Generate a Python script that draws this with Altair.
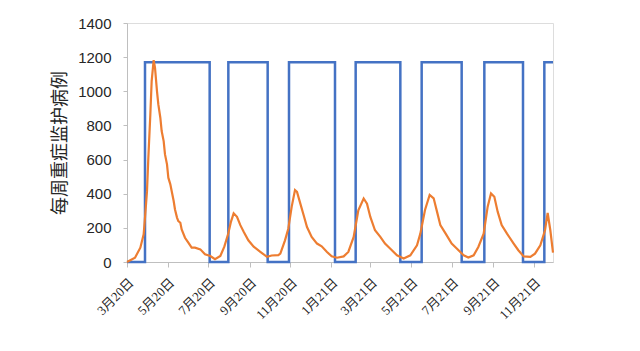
import altair as alt
import pandas as pd

# Weekly ICU cases (orange)
case_dates = [
    "2020-03-01", "2020-03-13", "2020-03-21", "2020-03-26", "2020-03-28", "2020-03-31",
    "2020-04-02", "2020-04-05", "2020-04-07", "2020-04-10", "2020-04-12", "2020-04-15",
    "2020-04-17", "2020-04-20", "2020-04-22", "2020-04-25", "2020-04-27", "2020-04-30",
    "2020-05-02", "2020-05-05", "2020-05-07", "2020-05-10", "2020-05-12", "2020-05-15",
    "2020-05-17", "2020-05-20", "2020-05-22", "2020-05-27", "2020-06-01", "2020-06-06",
    "2020-06-11", "2020-06-19", "2020-06-26", "2020-07-04", "2020-07-11", "2020-07-19",
    "2020-07-25", "2020-07-31", "2020-08-04", "2020-08-08", "2020-08-13", "2020-08-18",
    "2020-08-23", "2020-08-30", "2020-09-07", "2020-09-17", "2020-09-27", "2020-10-04",
    "2020-10-14", "2020-10-17", "2020-10-24", "2020-10-29", "2020-11-03", "2020-11-08",
    "2020-11-11", "2020-11-16", "2020-11-21", "2020-11-26", "2020-12-03", "2020-12-11",
    "2020-12-18", "2020-12-26", "2021-01-02", "2021-01-10", "2021-01-20", "2021-01-27",
    "2021-02-04", "2021-02-11", "2021-02-19", "2021-02-24", "2021-03-01", "2021-03-08",
    "2021-03-16", "2021-03-23", "2021-03-31", "2021-04-10", "2021-04-20", "2021-04-30",
    "2021-05-10", "2021-05-15", "2021-05-22", "2021-05-29", "2021-06-04", "2021-06-09",
    "2021-06-14", "2021-06-22", "2021-07-01", "2021-07-09", "2021-07-19", "2021-07-26",
    "2021-08-03", "2021-08-10", "2021-08-18", "2021-08-24", "2021-08-29", "2021-09-03",
    "2021-09-08", "2021-09-14", "2021-09-22", "2021-10-02", "2021-10-09", "2021-10-17",
    "2021-10-27", "2021-11-03", "2021-11-11", "2021-11-18", "2021-11-22", "2021-11-26",
    "2021-11-30",
]
case_values = [
    0, 25, 84, 162, 260, 415,
    610, 864, 1060, 1182, 1138, 1000,
    923, 845, 767, 708, 630, 572,
    494, 455, 416, 357, 308, 260,
    240, 230, 191, 142, 113, 84,
    84, 74, 45, 35, 16, 35,
    90, 168, 237, 285, 265, 216,
    177, 127, 90, 60, 30, 38,
    40, 49, 127, 196, 323, 421,
    411, 342, 274, 205, 147, 108,
    92, 59, 33, 25, 33, 59,
    147, 303, 372, 342, 264, 186,
    147, 108, 78, 39, 20, 39,
    98, 166, 305, 393, 373, 295,
    217, 166, 108, 78, 39, 26,
    39, 88, 166, 324, 402, 382,
    295, 217, 166, 108, 69, 33,
    30, 49, 98, 186, 288, 186,
    55,
]

# On/off intervention indicator (blue)
lock_dates = [
    "2020-03-01", "2020-03-28", "2020-03-28", "2020-07-03", "2020-07-03", "2020-07-31",
    "2020-07-31", "2020-09-28", "2020-09-28", "2020-10-30", "2020-10-30", "2021-01-07",
    "2021-01-07", "2021-02-07", "2021-02-07", "2021-04-15", "2021-04-15", "2021-05-17",
    "2021-05-17", "2021-07-16", "2021-07-16", "2021-08-19", "2021-08-19", "2021-10-16",
    "2021-10-16", "2021-11-17", "2021-11-17", "2021-11-30",
]
lock_values = [
    0, 0, 1170, 1170, 0, 0,
    1170, 1170, 0, 0, 1170, 1170,
    0, 0, 1170, 1170, 0, 0,
    1170, 1170, 0, 0, 1170, 1170,
    0, 0, 1170, 1170,
]

tick_months = [(2020, 3), (2020, 5), (2020, 7), (2020, 9), (2020, 11), (2021, 1),
               (2021, 3), (2021, 5), (2021, 7), (2021, 9), (2021, 11)]
y_ticks = [0, 200, 400, 600, 800, 1000, 1200, 1400]

cases = pd.DataFrame({"date": case_dates, "value": case_values, "idx": list(range(len(case_dates)))})
lock = pd.DataFrame({"date": lock_dates, "value": lock_values, "idx": list(range(len(lock_dates)))})

x_enc = alt.X(
    "date:T",
    scale=alt.Scale(
        type="utc",
        domain=[alt.DateTime(year=2020, month=3, date=1, utc=True),
                alt.DateTime(year=2021, month=11, date=30, utc=True)],
    ),
    axis=alt.Axis(
        values=[alt.DateTime(year=y, month=m, date=1, utc=True) for y, m in tick_months],
        labelExpr="utcFormat(datum.value, '%-m') + '月' + utcFormat(datum.value, '%y') + '日'",
        labelAngle=-45,
        labelAlign="right",
        labelBaseline="top",
        labelOverlap=False,
        labelFont="Liberation Serif, Noto Sans CJK SC",
        labelFontSize=13,
        labelColor="#262626",
        labelPadding=9,
        tickSize=5,
        tickColor="#bfbfbf",
        domainColor="#bfbfbf",
        grid=False,
        title=None,
    ),
)

y_enc = alt.Y(
    "value:Q",
    scale=alt.Scale(domain=[0, 1400], nice=False),
    axis=alt.Axis(
        values=y_ticks,
        format="d",
        grid=False,
        title="每周重症监护病例",
        titleFont="Noto Sans CJK SC",
        titleFontSize=18,
        titleFontWeight="normal",
        titleColor="#262626",
        titleX=-67,
        titleY=119.5,
        titleAngle=-90,
        titleAlign="center",
        titleBaseline="middle",
        labelFont="Liberation Sans",
        labelFontSize=15,
        labelColor="#262626",
        labelPadding=12,
        tickSize=4,
        tickColor="#bfbfbf",
        domainColor="#bfbfbf",
    ),
)

blue = alt.Chart(lock).mark_line(color="#4472C4", strokeWidth=2.5).encode(
    x=x_enc, y=y_enc, order=alt.Order("idx:Q")
)
orange = alt.Chart(cases).mark_line(color="#ED7D31", strokeWidth=2.2).encode(
    x=x_enc, y=y_enc, order=alt.Order("idx:Q")
)

chart = alt.layer(blue, orange).properties(
    width=426,
    height=239,
    autosize=alt.AutoSizeParams(type="none"),
    padding={"left": 127, "top": 23, "right": 87, "bottom": 89},
).configure_view(stroke=None).configure(background="white")

chart.save("out.html", embed_options={"renderer": "svg", "actions": False})
